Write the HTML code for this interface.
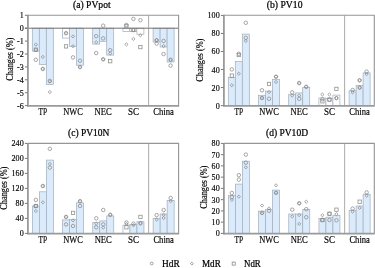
<!DOCTYPE html>
<html><head><meta charset="utf-8"><title>Figure</title>
<style>
html,body{margin:0;padding:0;background:#fff;}
body{width:375px;height:268px;overflow:hidden;}
svg{display:block;filter:blur(0.4px);}
text{font-family:"Liberation Serif", serif;fill:#000;stroke:#000;stroke-width:0.16px;}
.t{stroke-width:0.22px;}
.lg{stroke-width:0.22px;}
</style></head>
<body>
<svg width="375" height="268" viewBox="0 0 375 268">
<rect width="375" height="268" fill="#fff"/>
<rect x="32.3" y="28.2" width="7" height="22.9" fill="#dbebfb" stroke="#9fadbb" stroke-width="0.7"/>
<rect x="39.3" y="28.2" width="7" height="36.2" fill="#dbebfb" stroke="#9fadbb" stroke-width="0.7"/>
<rect x="46.3" y="28.2" width="7" height="56.4" fill="#dbebfb" stroke="#9fadbb" stroke-width="0.7"/>
<rect x="62.5" y="28.2" width="7" height="9.9" fill="#ffffff" stroke="#9fadbb" stroke-width="0.7"/>
<rect x="69.5" y="28.2" width="7" height="18.1" fill="#dbebfb" stroke="#9fadbb" stroke-width="0.7"/>
<rect x="76.5" y="28.2" width="7" height="37" fill="#dbebfb" stroke="#9fadbb" stroke-width="0.7"/>
<rect x="92.7" y="28.2" width="7" height="15.9" fill="#dbebfb" stroke="#9fadbb" stroke-width="0.7"/>
<rect x="99.7" y="28.2" width="7" height="13.1" fill="#dbebfb" stroke="#9fadbb" stroke-width="0.7"/>
<rect x="106.7" y="28.2" width="7" height="26.9" fill="#dbebfb" stroke="#9fadbb" stroke-width="0.7"/>
<rect x="122.9" y="28.2" width="7" height="3.4" fill="#ffffff" stroke="#9fadbb" stroke-width="0.7"/>
<rect x="129.9" y="28.2" width="7" height="3.5" fill="#ffffff" stroke="#9fadbb" stroke-width="0.7"/>
<rect x="136.9" y="28.2" width="7" height="6" fill="#ffffff" stroke="#9fadbb" stroke-width="0.7"/>
<rect x="153.1" y="28.2" width="7" height="13.8" fill="#dbebfb" stroke="#9fadbb" stroke-width="0.7"/>
<rect x="160.1" y="28.2" width="7" height="18.8" fill="#dbebfb" stroke="#9fadbb" stroke-width="0.7"/>
<rect x="167.1" y="28.2" width="7" height="33.8" fill="#dbebfb" stroke="#9fadbb" stroke-width="0.7"/>
<line x1="24.9" y1="28.2" x2="178.6" y2="28.2" stroke="#707070" stroke-width="1"/>
<path d="M35.8 43.06L37.46 44.6L35.8 46.14L34.14 44.6Z" fill="none" stroke="#8a8a8a" stroke-width="0.75"/>
<rect x="34.14" y="48.04" width="3.32" height="3.32" fill="none" stroke="#8a8a8a" stroke-width="0.75"/>
<path d="M35.8 48.16L37.46 49.7L35.8 51.24L34.14 49.7Z" fill="none" stroke="#8a8a8a" stroke-width="0.75"/>
<circle cx="35.8" cy="59.8" r="1.75" fill="none" stroke="#8a8a8a" stroke-width="0.75"/>
<path d="M42.8 55.36L44.46 56.9L42.8 58.44L41.14 56.9Z" fill="none" stroke="#8a8a8a" stroke-width="0.75"/>
<path d="M42.8 67.36L44.46 68.9L42.8 70.44L41.14 68.9Z" fill="none" stroke="#8a8a8a" stroke-width="0.75"/>
<circle cx="42.8" cy="68.9" r="1.75" fill="none" stroke="#8a8a8a" stroke-width="0.75"/>
<circle cx="49.8" cy="80.9" r="1.75" fill="none" stroke="#8a8a8a" stroke-width="0.75"/>
<path d="M49.8 79.96L51.46 81.5L49.8 83.04L48.14 81.5Z" fill="none" stroke="#8a8a8a" stroke-width="0.75"/>
<path d="M49.8 90.56L51.46 92.1L49.8 93.64L48.14 92.1Z" fill="none" stroke="#8a8a8a" stroke-width="0.75"/>
<circle cx="66" cy="33.2" r="1.75" fill="none" stroke="#8a8a8a" stroke-width="0.75"/>
<path d="M66 31.66L67.66 33.2L66 34.74L64.34 33.2Z" fill="none" stroke="#8a8a8a" stroke-width="0.75"/>
<rect x="64.34" y="44.74" width="3.32" height="3.32" fill="none" stroke="#8a8a8a" stroke-width="0.75"/>
<path d="M73 34.86L74.66 36.4L73 37.94L71.34 36.4Z" fill="none" stroke="#8a8a8a" stroke-width="0.75"/>
<path d="M73 44.66L74.66 46.2L73 47.74L71.34 46.2Z" fill="none" stroke="#8a8a8a" stroke-width="0.75"/>
<circle cx="73" cy="57.4" r="1.75" fill="none" stroke="#8a8a8a" stroke-width="0.75"/>
<circle cx="80" cy="60.7" r="1.75" fill="none" stroke="#8a8a8a" stroke-width="0.75"/>
<circle cx="80" cy="67.1" r="1.75" fill="none" stroke="#8a8a8a" stroke-width="0.75"/>
<path d="M80 65.56L81.66 67.1L80 68.64L78.34 67.1Z" fill="none" stroke="#8a8a8a" stroke-width="0.75"/>
<circle cx="96.2" cy="36.2" r="1.75" fill="none" stroke="#8a8a8a" stroke-width="0.75"/>
<path d="M96.2 40.66L97.86 42.2L96.2 43.74L94.54 42.2Z" fill="none" stroke="#8a8a8a" stroke-width="0.75"/>
<circle cx="96.2" cy="53.1" r="1.75" fill="none" stroke="#8a8a8a" stroke-width="0.75"/>
<circle cx="103.2" cy="25.7" r="1.75" fill="none" stroke="#8a8a8a" stroke-width="0.75"/>
<circle cx="103.2" cy="38.4" r="1.75" fill="none" stroke="#8a8a8a" stroke-width="0.75"/>
<circle cx="103.2" cy="59.3" r="1.75" fill="none" stroke="#8a8a8a" stroke-width="0.75"/>
<path d="M103.2 57.76L104.86 59.3L103.2 60.84L101.54 59.3Z" fill="none" stroke="#8a8a8a" stroke-width="0.75"/>
<circle cx="110.2" cy="50.2" r="1.75" fill="none" stroke="#8a8a8a" stroke-width="0.75"/>
<path d="M110.2 51.96L111.86 53.5L110.2 55.04L108.54 53.5Z" fill="none" stroke="#8a8a8a" stroke-width="0.75"/>
<rect x="108.54" y="59.54" width="3.32" height="3.32" fill="none" stroke="#8a8a8a" stroke-width="0.75"/>
<circle cx="126.4" cy="24.9" r="1.75" fill="none" stroke="#8a8a8a" stroke-width="0.75"/>
<rect x="124.74" y="24.64" width="3.32" height="3.32" fill="none" stroke="#8a8a8a" stroke-width="0.75"/>
<path d="M126.4 42.86L128.06 44.4L126.4 45.94L124.74 44.4Z" fill="none" stroke="#8a8a8a" stroke-width="0.75"/>
<circle cx="133.4" cy="18.9" r="1.75" fill="none" stroke="#8a8a8a" stroke-width="0.75"/>
<rect x="131.74" y="28.34" width="3.32" height="3.32" fill="none" stroke="#8a8a8a" stroke-width="0.75"/>
<path d="M133.4 28.46L135.06 30L133.4 31.54L131.74 30Z" fill="none" stroke="#8a8a8a" stroke-width="0.75"/>
<path d="M133.4 37.36L135.06 38.9L133.4 40.44L131.74 38.9Z" fill="none" stroke="#8a8a8a" stroke-width="0.75"/>
<circle cx="140.4" cy="20.2" r="1.75" fill="none" stroke="#8a8a8a" stroke-width="0.75"/>
<path d="M140.4 33.76L142.06 35.3L140.4 36.84L138.74 35.3Z" fill="none" stroke="#8a8a8a" stroke-width="0.75"/>
<rect x="138.74" y="45.44" width="3.32" height="3.32" fill="none" stroke="#8a8a8a" stroke-width="0.75"/>
<path d="M156.6 38.56L158.26 40.1L156.6 41.64L154.94 40.1Z" fill="none" stroke="#8a8a8a" stroke-width="0.75"/>
<circle cx="156.6" cy="40.3" r="1.75" fill="none" stroke="#8a8a8a" stroke-width="0.75"/>
<circle cx="156.6" cy="43.6" r="1.75" fill="none" stroke="#8a8a8a" stroke-width="0.75"/>
<circle cx="163.6" cy="40.9" r="1.75" fill="none" stroke="#8a8a8a" stroke-width="0.75"/>
<path d="M163.6 44.56L165.26 46.1L163.6 47.64L161.94 46.1Z" fill="none" stroke="#8a8a8a" stroke-width="0.75"/>
<circle cx="163.6" cy="54.1" r="1.75" fill="none" stroke="#8a8a8a" stroke-width="0.75"/>
<circle cx="170.6" cy="59.8" r="1.75" fill="none" stroke="#8a8a8a" stroke-width="0.75"/>
<path d="M170.6 58.26L172.26 59.8L170.6 61.34L168.94 59.8Z" fill="none" stroke="#8a8a8a" stroke-width="0.75"/>
<circle cx="170.6" cy="65.6" r="1.75" fill="none" stroke="#8a8a8a" stroke-width="0.75"/>
<path d="M27.9 15.3H178.6V105.8" fill="none" stroke="#959595" stroke-width="1.1"/>
<line x1="27.9" y1="14.8" x2="27.9" y2="106.7" stroke="#9a9a9a" stroke-width="1.8"/>
<line x1="27.9" y1="105.8" x2="179.1" y2="105.8" stroke="#9a9a9a" stroke-width="1.8"/>
<line x1="148.6" y1="15.3" x2="148.6" y2="105.8" stroke="#9c9c9c" stroke-width="0.85"/>
<line x1="24.9" y1="15.3" x2="27.4" y2="15.3" stroke="#6a6a6a" stroke-width="0.9"/>
<text transform="translate(23.7 18.3) scale(0.92 1)" font-size="8.8" text-anchor="end">1</text>
<line x1="24.9" y1="28.2" x2="27.4" y2="28.2" stroke="#6a6a6a" stroke-width="0.9"/>
<text transform="translate(23.7 31.2) scale(0.92 1)" font-size="8.8" text-anchor="end">0</text>
<line x1="24.9" y1="41.1" x2="27.4" y2="41.1" stroke="#6a6a6a" stroke-width="0.9"/>
<text transform="translate(23.7 44.1) scale(0.92 1)" font-size="8.8" text-anchor="end">-1</text>
<line x1="24.9" y1="54" x2="27.4" y2="54" stroke="#6a6a6a" stroke-width="0.9"/>
<text transform="translate(23.7 57) scale(0.92 1)" font-size="8.8" text-anchor="end">-2</text>
<line x1="24.9" y1="66.9" x2="27.4" y2="66.9" stroke="#6a6a6a" stroke-width="0.9"/>
<text transform="translate(23.7 69.9) scale(0.92 1)" font-size="8.8" text-anchor="end">-3</text>
<line x1="24.9" y1="79.8" x2="27.4" y2="79.8" stroke="#6a6a6a" stroke-width="0.9"/>
<text transform="translate(23.7 82.8) scale(0.92 1)" font-size="8.8" text-anchor="end">-4</text>
<line x1="24.9" y1="92.7" x2="27.4" y2="92.7" stroke="#6a6a6a" stroke-width="0.9"/>
<text transform="translate(23.7 95.7) scale(0.92 1)" font-size="8.8" text-anchor="end">-5</text>
<line x1="24.9" y1="105.6" x2="27.4" y2="105.6" stroke="#6a6a6a" stroke-width="0.9"/>
<text transform="translate(23.7 108.6) scale(0.92 1)" font-size="8.8" text-anchor="end">-6</text>
<text x="42.8" y="115.2" font-size="9.6" text-anchor="middle" textLength="8.6" lengthAdjust="spacingAndGlyphs">TP</text>
<text x="73" y="115.2" font-size="9.6" text-anchor="middle" textLength="19.6" lengthAdjust="spacingAndGlyphs">NWC</text>
<text x="103.2" y="115.2" font-size="9.6" text-anchor="middle" textLength="17.2" lengthAdjust="spacingAndGlyphs">NEC</text>
<text x="133.4" y="115.2" font-size="9.6" text-anchor="middle" textLength="11.0" lengthAdjust="spacingAndGlyphs">SC</text>
<text x="163.6" y="115.2" font-size="9.6" text-anchor="middle" textLength="20.5" lengthAdjust="spacingAndGlyphs">China</text>
<text transform="translate(13 59.2) rotate(-90)" font-size="9.4" text-anchor="middle" textLength="43" lengthAdjust="spacingAndGlyphs">Changes (%)</text>
<text class="t" x="73" y="8" font-size="9.4" textLength="37.6" lengthAdjust="spacingAndGlyphs">(a) PVpot</text>
<rect x="228.3" y="77.5" width="7" height="28.1" fill="#dbebfb" stroke="#9fadbb" stroke-width="0.7"/>
<rect x="235.3" y="61.6" width="7" height="44" fill="#dbebfb" stroke="#9fadbb" stroke-width="0.7"/>
<rect x="242.3" y="34.1" width="7" height="71.5" fill="#dbebfb" stroke="#9fadbb" stroke-width="0.7"/>
<rect x="258.5" y="95.3" width="7" height="10.3" fill="#dbebfb" stroke="#9fadbb" stroke-width="0.7"/>
<rect x="265.5" y="91.1" width="7" height="14.5" fill="#dbebfb" stroke="#9fadbb" stroke-width="0.7"/>
<rect x="272.5" y="79.3" width="7" height="26.3" fill="#dbebfb" stroke="#9fadbb" stroke-width="0.7"/>
<rect x="288.7" y="94.3" width="7" height="11.3" fill="#dbebfb" stroke="#9fadbb" stroke-width="0.7"/>
<rect x="295.7" y="92.9" width="7" height="12.7" fill="#dbebfb" stroke="#9fadbb" stroke-width="0.7"/>
<rect x="302.7" y="87.3" width="7" height="18.3" fill="#dbebfb" stroke="#9fadbb" stroke-width="0.7"/>
<rect x="318.9" y="98" width="7" height="7.6" fill="#ffffff" stroke="#9fadbb" stroke-width="0.7"/>
<rect x="325.9" y="98.4" width="7" height="7.2" fill="#ffffff" stroke="#9fadbb" stroke-width="0.7"/>
<rect x="332.9" y="95.1" width="7" height="10.5" fill="#ffffff" stroke="#9fadbb" stroke-width="0.7"/>
<rect x="349.1" y="90.8" width="7" height="14.8" fill="#dbebfb" stroke="#9fadbb" stroke-width="0.7"/>
<rect x="356.1" y="85.3" width="7" height="20.3" fill="#dbebfb" stroke="#9fadbb" stroke-width="0.7"/>
<rect x="363.1" y="72.9" width="7" height="32.7" fill="#dbebfb" stroke="#9fadbb" stroke-width="0.7"/>
<circle cx="231.8" cy="69.4" r="1.75" fill="none" stroke="#8a8a8a" stroke-width="0.75"/>
<rect x="230.14" y="73.94" width="3.32" height="3.32" fill="none" stroke="#8a8a8a" stroke-width="0.75"/>
<path d="M231.8 83.76L233.46 85.3L231.8 86.84L230.14 85.3Z" fill="none" stroke="#8a8a8a" stroke-width="0.75"/>
<circle cx="238.8" cy="53.8" r="1.75" fill="none" stroke="#8a8a8a" stroke-width="0.75"/>
<rect x="237.14" y="53.34" width="3.32" height="3.32" fill="none" stroke="#8a8a8a" stroke-width="0.75"/>
<path d="M238.8 72.16L240.46 73.7L238.8 75.24L237.14 73.7Z" fill="none" stroke="#8a8a8a" stroke-width="0.75"/>
<circle cx="245.8" cy="22.8" r="1.75" fill="none" stroke="#8a8a8a" stroke-width="0.75"/>
<circle cx="245.8" cy="37.9" r="1.75" fill="none" stroke="#8a8a8a" stroke-width="0.75"/>
<path d="M245.8 39.46L247.46 41L245.8 42.54L244.14 41Z" fill="none" stroke="#8a8a8a" stroke-width="0.75"/>
<circle cx="262" cy="90.3" r="1.75" fill="none" stroke="#8a8a8a" stroke-width="0.75"/>
<path d="M262 96.46L263.66 98L262 99.54L260.34 98Z" fill="none" stroke="#8a8a8a" stroke-width="0.75"/>
<circle cx="262" cy="98" r="1.75" fill="none" stroke="#8a8a8a" stroke-width="0.75"/>
<rect x="267.34" y="82.24" width="3.32" height="3.32" fill="none" stroke="#8a8a8a" stroke-width="0.75"/>
<path d="M269 90.56L270.66 92.1L269 93.64L267.34 92.1Z" fill="none" stroke="#8a8a8a" stroke-width="0.75"/>
<circle cx="269" cy="98.8" r="1.75" fill="none" stroke="#8a8a8a" stroke-width="0.75"/>
<circle cx="276" cy="76.7" r="1.75" fill="none" stroke="#8a8a8a" stroke-width="0.75"/>
<path d="M276 75.16L277.66 76.7L276 78.24L274.34 76.7Z" fill="none" stroke="#8a8a8a" stroke-width="0.75"/>
<path d="M276 80.46L277.66 82L276 83.54L274.34 82Z" fill="none" stroke="#8a8a8a" stroke-width="0.75"/>
<circle cx="292.2" cy="92.4" r="1.75" fill="none" stroke="#8a8a8a" stroke-width="0.75"/>
<path d="M292.2 94.06L293.86 95.6L292.2 97.14L290.54 95.6Z" fill="none" stroke="#8a8a8a" stroke-width="0.75"/>
<circle cx="299.2" cy="83.1" r="1.75" fill="none" stroke="#8a8a8a" stroke-width="0.75"/>
<path d="M299.2 81.56L300.86 83.1L299.2 84.64L297.54 83.1Z" fill="none" stroke="#8a8a8a" stroke-width="0.75"/>
<path d="M299.2 94.06L300.86 95.6L299.2 97.14L297.54 95.6Z" fill="none" stroke="#8a8a8a" stroke-width="0.75"/>
<circle cx="299.2" cy="98.8" r="1.75" fill="none" stroke="#8a8a8a" stroke-width="0.75"/>
<circle cx="306.2" cy="86.8" r="1.75" fill="none" stroke="#8a8a8a" stroke-width="0.75"/>
<path d="M306.2 85.26L307.86 86.8L306.2 88.34L304.54 86.8Z" fill="none" stroke="#8a8a8a" stroke-width="0.75"/>
<path d="M322.4 92.96L324.06 94.5L322.4 96.04L320.74 94.5Z" fill="none" stroke="#8a8a8a" stroke-width="0.75"/>
<circle cx="322.4" cy="99.2" r="1.75" fill="none" stroke="#8a8a8a" stroke-width="0.75"/>
<rect x="320.74" y="99.64" width="3.32" height="3.32" fill="none" stroke="#8a8a8a" stroke-width="0.75"/>
<path d="M329.4 92.96L331.06 94.5L329.4 96.04L327.74 94.5Z" fill="none" stroke="#8a8a8a" stroke-width="0.75"/>
<rect x="327.74" y="97.94" width="3.32" height="3.32" fill="none" stroke="#8a8a8a" stroke-width="0.75"/>
<circle cx="329.4" cy="99.6" r="1.75" fill="none" stroke="#8a8a8a" stroke-width="0.75"/>
<rect x="334.74" y="87.24" width="3.32" height="3.32" fill="none" stroke="#8a8a8a" stroke-width="0.75"/>
<path d="M336.4 96.56L338.06 98.1L336.4 99.64L334.74 98.1Z" fill="none" stroke="#8a8a8a" stroke-width="0.75"/>
<circle cx="336.4" cy="98.1" r="1.75" fill="none" stroke="#8a8a8a" stroke-width="0.75"/>
<circle cx="352.6" cy="90" r="1.75" fill="none" stroke="#8a8a8a" stroke-width="0.75"/>
<path d="M352.6 90.86L354.26 92.4L352.6 93.94L350.94 92.4Z" fill="none" stroke="#8a8a8a" stroke-width="0.75"/>
<circle cx="359.6" cy="80.3" r="1.75" fill="none" stroke="#8a8a8a" stroke-width="0.75"/>
<path d="M359.6 78.76L361.26 80.3L359.6 81.84L357.94 80.3Z" fill="none" stroke="#8a8a8a" stroke-width="0.75"/>
<path d="M359.6 86.06L361.26 87.6L359.6 89.14L357.94 87.6Z" fill="none" stroke="#8a8a8a" stroke-width="0.75"/>
<circle cx="359.6" cy="87.6" r="1.75" fill="none" stroke="#8a8a8a" stroke-width="0.75"/>
<circle cx="366.6" cy="71.6" r="1.75" fill="none" stroke="#8a8a8a" stroke-width="0.75"/>
<path d="M366.6 72.56L368.26 74.1L366.6 75.64L364.94 74.1Z" fill="none" stroke="#8a8a8a" stroke-width="0.75"/>
<path d="M223.9 15.3H374.3V105.8" fill="none" stroke="#959595" stroke-width="1.1"/>
<line x1="223.9" y1="14.8" x2="223.9" y2="106.7" stroke="#9a9a9a" stroke-width="1.8"/>
<line x1="223.9" y1="105.8" x2="374.8" y2="105.8" stroke="#9a9a9a" stroke-width="1.8"/>
<line x1="344.6" y1="15.3" x2="344.6" y2="105.8" stroke="#9c9c9c" stroke-width="0.85"/>
<line x1="220.9" y1="105.6" x2="223.4" y2="105.6" stroke="#6a6a6a" stroke-width="0.9"/>
<text transform="translate(219.7 108.6) scale(0.92 1)" font-size="8.8" text-anchor="end">0</text>
<line x1="220.9" y1="87.56" x2="223.4" y2="87.56" stroke="#6a6a6a" stroke-width="0.9"/>
<text transform="translate(219.7 90.56) scale(0.92 1)" font-size="8.8" text-anchor="end">20</text>
<line x1="220.9" y1="69.52" x2="223.4" y2="69.52" stroke="#6a6a6a" stroke-width="0.9"/>
<text transform="translate(219.7 72.52) scale(0.92 1)" font-size="8.8" text-anchor="end">40</text>
<line x1="220.9" y1="51.48" x2="223.4" y2="51.48" stroke="#6a6a6a" stroke-width="0.9"/>
<text transform="translate(219.7 54.48) scale(0.92 1)" font-size="8.8" text-anchor="end">60</text>
<line x1="220.9" y1="33.44" x2="223.4" y2="33.44" stroke="#6a6a6a" stroke-width="0.9"/>
<text transform="translate(219.7 36.44) scale(0.92 1)" font-size="8.8" text-anchor="end">80</text>
<line x1="220.9" y1="15.4" x2="223.4" y2="15.4" stroke="#6a6a6a" stroke-width="0.9"/>
<text transform="translate(219.7 18.4) scale(0.92 1)" font-size="8.8" text-anchor="end">100</text>
<text x="238.8" y="115.2" font-size="9.6" text-anchor="middle" textLength="8.6" lengthAdjust="spacingAndGlyphs">TP</text>
<text x="269" y="115.2" font-size="9.6" text-anchor="middle" textLength="19.6" lengthAdjust="spacingAndGlyphs">NWC</text>
<text x="299.2" y="115.2" font-size="9.6" text-anchor="middle" textLength="17.2" lengthAdjust="spacingAndGlyphs">NEC</text>
<text x="329.4" y="115.2" font-size="9.6" text-anchor="middle" textLength="11.0" lengthAdjust="spacingAndGlyphs">SC</text>
<text x="359.6" y="115.2" font-size="9.6" text-anchor="middle" textLength="20.5" lengthAdjust="spacingAndGlyphs">China</text>
<text transform="translate(202.9 60.2) rotate(-90)" font-size="9.4" text-anchor="middle" textLength="43" lengthAdjust="spacingAndGlyphs">Changes (%)</text>
<text class="t" x="266.8" y="8" font-size="9.4" textLength="35.7" lengthAdjust="spacingAndGlyphs">(b) PV10</text>
<rect x="32.35" y="206" width="7" height="27.4" fill="#dbebfb" stroke="#9fadbb" stroke-width="0.7"/>
<rect x="39.35" y="191.8" width="7" height="41.6" fill="#dbebfb" stroke="#9fadbb" stroke-width="0.7"/>
<rect x="46.35" y="160.1" width="7" height="73.3" fill="#dbebfb" stroke="#9fadbb" stroke-width="0.7"/>
<rect x="62.55" y="219.9" width="7" height="13.5" fill="#dbebfb" stroke="#9fadbb" stroke-width="0.7"/>
<rect x="69.55" y="219.3" width="7" height="14.1" fill="#dbebfb" stroke="#9fadbb" stroke-width="0.7"/>
<rect x="76.55" y="202.8" width="7" height="30.6" fill="#dbebfb" stroke="#9fadbb" stroke-width="0.7"/>
<rect x="92.75" y="222.5" width="7" height="10.9" fill="#dbebfb" stroke="#9fadbb" stroke-width="0.7"/>
<rect x="99.75" y="220.9" width="7" height="12.5" fill="#dbebfb" stroke="#9fadbb" stroke-width="0.7"/>
<rect x="106.75" y="215.9" width="7" height="17.5" fill="#dbebfb" stroke="#9fadbb" stroke-width="0.7"/>
<rect x="122.95" y="225.2" width="7" height="8.2" fill="#ffffff" stroke="#9fadbb" stroke-width="0.7"/>
<rect x="129.95" y="224.4" width="7" height="9" fill="#dbebfb" stroke="#9fadbb" stroke-width="0.7"/>
<rect x="136.95" y="221.7" width="7" height="11.7" fill="#dbebfb" stroke="#9fadbb" stroke-width="0.7"/>
<rect x="153.15" y="218.3" width="7" height="15.1" fill="#dbebfb" stroke="#9fadbb" stroke-width="0.7"/>
<rect x="160.15" y="214" width="7" height="19.4" fill="#dbebfb" stroke="#9fadbb" stroke-width="0.7"/>
<rect x="167.15" y="200.4" width="7" height="33" fill="#dbebfb" stroke="#9fadbb" stroke-width="0.7"/>
<circle cx="35.85" cy="199.9" r="1.75" fill="none" stroke="#8a8a8a" stroke-width="0.75"/>
<circle cx="35.85" cy="206" r="1.75" fill="none" stroke="#8a8a8a" stroke-width="0.75"/>
<rect x="34.19" y="204.34" width="3.32" height="3.32" fill="none" stroke="#8a8a8a" stroke-width="0.75"/>
<path d="M35.85 209.46L37.51 211L35.85 212.54L34.19 211Z" fill="none" stroke="#8a8a8a" stroke-width="0.75"/>
<circle cx="42.85" cy="186" r="1.75" fill="none" stroke="#8a8a8a" stroke-width="0.75"/>
<path d="M42.85 184.46L44.51 186L42.85 187.54L41.19 186Z" fill="none" stroke="#8a8a8a" stroke-width="0.75"/>
<path d="M42.85 200.76L44.51 202.3L42.85 203.84L41.19 202.3Z" fill="none" stroke="#8a8a8a" stroke-width="0.75"/>
<circle cx="49.85" cy="148.8" r="1.75" fill="none" stroke="#8a8a8a" stroke-width="0.75"/>
<path d="M49.85 162.36L51.51 163.9L49.85 165.44L48.19 163.9Z" fill="none" stroke="#8a8a8a" stroke-width="0.75"/>
<circle cx="49.85" cy="167.6" r="1.75" fill="none" stroke="#8a8a8a" stroke-width="0.75"/>
<circle cx="66.05" cy="216.9" r="1.75" fill="none" stroke="#8a8a8a" stroke-width="0.75"/>
<path d="M66.05 215.36L67.71 216.9L66.05 218.44L64.39 216.9Z" fill="none" stroke="#8a8a8a" stroke-width="0.75"/>
<circle cx="66.05" cy="224.4" r="1.75" fill="none" stroke="#8a8a8a" stroke-width="0.75"/>
<rect x="71.39" y="211.24" width="3.32" height="3.32" fill="none" stroke="#8a8a8a" stroke-width="0.75"/>
<path d="M73.05 218.86L74.71 220.4L73.05 221.94L71.39 220.4Z" fill="none" stroke="#8a8a8a" stroke-width="0.75"/>
<circle cx="73.05" cy="226" r="1.75" fill="none" stroke="#8a8a8a" stroke-width="0.75"/>
<circle cx="80.05" cy="201.2" r="1.75" fill="none" stroke="#8a8a8a" stroke-width="0.75"/>
<path d="M80.05 199.66L81.71 201.2L80.05 202.74L78.39 201.2Z" fill="none" stroke="#8a8a8a" stroke-width="0.75"/>
<circle cx="80.05" cy="206" r="1.75" fill="none" stroke="#8a8a8a" stroke-width="0.75"/>
<circle cx="96.25" cy="218.3" r="1.75" fill="none" stroke="#8a8a8a" stroke-width="0.75"/>
<path d="M96.25 222.06L97.91 223.6L96.25 225.14L94.59 223.6Z" fill="none" stroke="#8a8a8a" stroke-width="0.75"/>
<circle cx="96.25" cy="227.3" r="1.75" fill="none" stroke="#8a8a8a" stroke-width="0.75"/>
<circle cx="103.25" cy="210" r="1.75" fill="none" stroke="#8a8a8a" stroke-width="0.75"/>
<circle cx="103.25" cy="224.4" r="1.75" fill="none" stroke="#8a8a8a" stroke-width="0.75"/>
<path d="M103.25 226.06L104.91 227.6L103.25 229.14L101.59 227.6Z" fill="none" stroke="#8a8a8a" stroke-width="0.75"/>
<circle cx="110.25" cy="214.8" r="1.75" fill="none" stroke="#8a8a8a" stroke-width="0.75"/>
<path d="M110.25 213.26L111.91 214.8L110.25 216.34L108.59 214.8Z" fill="none" stroke="#8a8a8a" stroke-width="0.75"/>
<circle cx="126.45" cy="222.5" r="1.75" fill="none" stroke="#8a8a8a" stroke-width="0.75"/>
<path d="M126.45 222.46L128.11 224L126.45 225.54L124.79 224Z" fill="none" stroke="#8a8a8a" stroke-width="0.75"/>
<rect x="124.79" y="225.64" width="3.32" height="3.32" fill="none" stroke="#8a8a8a" stroke-width="0.75"/>
<circle cx="133.45" cy="223.6" r="1.75" fill="none" stroke="#8a8a8a" stroke-width="0.75"/>
<path d="M133.45 223.66L135.11 225.2L133.45 226.74L131.79 225.2Z" fill="none" stroke="#8a8a8a" stroke-width="0.75"/>
<rect x="138.79" y="215.24" width="3.32" height="3.32" fill="none" stroke="#8a8a8a" stroke-width="0.75"/>
<circle cx="140.45" cy="223.3" r="1.75" fill="none" stroke="#8a8a8a" stroke-width="0.75"/>
<path d="M140.45 221.76L142.11 223.3L140.45 224.84L138.79 223.3Z" fill="none" stroke="#8a8a8a" stroke-width="0.75"/>
<circle cx="156.65" cy="215.1" r="1.75" fill="none" stroke="#8a8a8a" stroke-width="0.75"/>
<path d="M156.65 218.06L158.31 219.6L156.65 221.14L154.99 219.6Z" fill="none" stroke="#8a8a8a" stroke-width="0.75"/>
<circle cx="163.65" cy="210" r="1.75" fill="none" stroke="#8a8a8a" stroke-width="0.75"/>
<path d="M163.65 213.26L165.31 214.8L163.65 216.34L161.99 214.8Z" fill="none" stroke="#8a8a8a" stroke-width="0.75"/>
<path d="M163.65 216.46L165.31 218L163.65 219.54L161.99 218Z" fill="none" stroke="#8a8a8a" stroke-width="0.75"/>
<circle cx="170.65" cy="198" r="1.75" fill="none" stroke="#8a8a8a" stroke-width="0.75"/>
<path d="M170.65 199.66L172.31 201.2L170.65 202.74L168.99 201.2Z" fill="none" stroke="#8a8a8a" stroke-width="0.75"/>
<path d="M27.9 143.4H178.6V233.7" fill="none" stroke="#959595" stroke-width="1.1"/>
<line x1="27.9" y1="142.9" x2="27.9" y2="234.6" stroke="#9a9a9a" stroke-width="1.8"/>
<line x1="27.9" y1="233.7" x2="179.1" y2="233.7" stroke="#9a9a9a" stroke-width="1.8"/>
<line x1="148.65" y1="143.4" x2="148.65" y2="233.7" stroke="#9c9c9c" stroke-width="0.85"/>
<line x1="24.9" y1="233.4" x2="27.4" y2="233.4" stroke="#6a6a6a" stroke-width="0.9"/>
<text transform="translate(23.7 236.4) scale(0.92 1)" font-size="8.8" text-anchor="end">0</text>
<line x1="24.9" y1="218.4" x2="27.4" y2="218.4" stroke="#6a6a6a" stroke-width="0.9"/>
<text transform="translate(23.7 221.4) scale(0.92 1)" font-size="8.8" text-anchor="end">40</text>
<line x1="24.9" y1="203.4" x2="27.4" y2="203.4" stroke="#6a6a6a" stroke-width="0.9"/>
<text transform="translate(23.7 206.4) scale(0.92 1)" font-size="8.8" text-anchor="end">80</text>
<line x1="24.9" y1="188.4" x2="27.4" y2="188.4" stroke="#6a6a6a" stroke-width="0.9"/>
<text transform="translate(23.7 191.4) scale(0.92 1)" font-size="8.8" text-anchor="end">120</text>
<line x1="24.9" y1="173.4" x2="27.4" y2="173.4" stroke="#6a6a6a" stroke-width="0.9"/>
<text transform="translate(23.7 176.4) scale(0.92 1)" font-size="8.8" text-anchor="end">160</text>
<line x1="24.9" y1="158.4" x2="27.4" y2="158.4" stroke="#6a6a6a" stroke-width="0.9"/>
<text transform="translate(23.7 161.4) scale(0.92 1)" font-size="8.8" text-anchor="end">200</text>
<line x1="24.9" y1="143.4" x2="27.4" y2="143.4" stroke="#6a6a6a" stroke-width="0.9"/>
<text transform="translate(23.7 146.4) scale(0.92 1)" font-size="8.8" text-anchor="end">240</text>
<text x="42.85" y="243" font-size="9.6" text-anchor="middle" textLength="8.6" lengthAdjust="spacingAndGlyphs">TP</text>
<text x="73.05" y="243" font-size="9.6" text-anchor="middle" textLength="19.6" lengthAdjust="spacingAndGlyphs">NWC</text>
<text x="103.25" y="243" font-size="9.6" text-anchor="middle" textLength="17.2" lengthAdjust="spacingAndGlyphs">NEC</text>
<text x="133.45" y="243" font-size="9.6" text-anchor="middle" textLength="11.0" lengthAdjust="spacingAndGlyphs">SC</text>
<text x="163.65" y="243" font-size="9.6" text-anchor="middle" textLength="20.5" lengthAdjust="spacingAndGlyphs">China</text>
<text transform="translate(7.4 188.2) rotate(-90)" font-size="9.4" text-anchor="middle" textLength="43" lengthAdjust="spacingAndGlyphs">Changes (%)</text>
<text class="t" x="68" y="136" font-size="9.4" textLength="41.5" lengthAdjust="spacingAndGlyphs">(c) PV10N</text>
<rect x="228.35" y="195.6" width="7" height="37.8" fill="#dbebfb" stroke="#9fadbb" stroke-width="0.7"/>
<rect x="235.35" y="184.1" width="7" height="49.3" fill="#dbebfb" stroke="#9fadbb" stroke-width="0.7"/>
<rect x="242.35" y="161.2" width="7" height="72.2" fill="#dbebfb" stroke="#9fadbb" stroke-width="0.7"/>
<rect x="258.55" y="211.1" width="7" height="22.3" fill="#dbebfb" stroke="#9fadbb" stroke-width="0.7"/>
<rect x="265.55" y="209.7" width="7" height="23.7" fill="#dbebfb" stroke="#9fadbb" stroke-width="0.7"/>
<rect x="272.55" y="190.1" width="7" height="43.3" fill="#dbebfb" stroke="#9fadbb" stroke-width="0.7"/>
<rect x="288.75" y="214" width="7" height="19.4" fill="#dbebfb" stroke="#9fadbb" stroke-width="0.7"/>
<rect x="295.75" y="214" width="7" height="19.4" fill="#dbebfb" stroke="#9fadbb" stroke-width="0.7"/>
<rect x="302.75" y="209.5" width="7" height="23.9" fill="#dbebfb" stroke="#9fadbb" stroke-width="0.7"/>
<rect x="318.95" y="218.5" width="7" height="14.9" fill="#dbebfb" stroke="#9fadbb" stroke-width="0.7"/>
<rect x="325.95" y="217.2" width="7" height="16.2" fill="#dbebfb" stroke="#9fadbb" stroke-width="0.7"/>
<rect x="332.95" y="215.3" width="7" height="18.1" fill="#dbebfb" stroke="#9fadbb" stroke-width="0.7"/>
<rect x="349.15" y="210.6" width="7" height="22.8" fill="#dbebfb" stroke="#9fadbb" stroke-width="0.7"/>
<rect x="356.15" y="206" width="7" height="27.4" fill="#dbebfb" stroke="#9fadbb" stroke-width="0.7"/>
<rect x="363.15" y="194.2" width="7" height="39.2" fill="#dbebfb" stroke="#9fadbb" stroke-width="0.7"/>
<circle cx="231.85" cy="193" r="1.75" fill="none" stroke="#8a8a8a" stroke-width="0.75"/>
<circle cx="231.85" cy="197.1" r="1.75" fill="none" stroke="#8a8a8a" stroke-width="0.75"/>
<path d="M231.85 198.36L233.51 199.9L231.85 201.44L230.19 199.9Z" fill="none" stroke="#8a8a8a" stroke-width="0.75"/>
<circle cx="238.85" cy="175.2" r="1.75" fill="none" stroke="#8a8a8a" stroke-width="0.75"/>
<circle cx="238.85" cy="179.6" r="1.75" fill="none" stroke="#8a8a8a" stroke-width="0.75"/>
<path d="M238.85 195.16L240.51 196.7L238.85 198.24L237.19 196.7Z" fill="none" stroke="#8a8a8a" stroke-width="0.75"/>
<circle cx="245.85" cy="154.6" r="1.75" fill="none" stroke="#8a8a8a" stroke-width="0.75"/>
<circle cx="245.85" cy="162.7" r="1.75" fill="none" stroke="#8a8a8a" stroke-width="0.75"/>
<path d="M245.85 165.76L247.51 167.3L245.85 168.84L244.19 167.3Z" fill="none" stroke="#8a8a8a" stroke-width="0.75"/>
<path d="M262.05 203.96L263.71 205.5L262.05 207.04L260.39 205.5Z" fill="none" stroke="#8a8a8a" stroke-width="0.75"/>
<circle cx="262.05" cy="212.8" r="1.75" fill="none" stroke="#8a8a8a" stroke-width="0.75"/>
<path d="M262.05 211.76L263.71 213.3L262.05 214.84L260.39 213.3Z" fill="none" stroke="#8a8a8a" stroke-width="0.75"/>
<path d="M269.05 206.86L270.71 208.4L269.05 209.94L267.39 208.4Z" fill="none" stroke="#8a8a8a" stroke-width="0.75"/>
<circle cx="269.05" cy="210.8" r="1.75" fill="none" stroke="#8a8a8a" stroke-width="0.75"/>
<path d="M276.05 183.76L277.71 185.3L276.05 186.84L274.39 185.3Z" fill="none" stroke="#8a8a8a" stroke-width="0.75"/>
<circle cx="276.05" cy="192.8" r="1.75" fill="none" stroke="#8a8a8a" stroke-width="0.75"/>
<path d="M276.05 191.26L277.71 192.8L276.05 194.34L274.39 192.8Z" fill="none" stroke="#8a8a8a" stroke-width="0.75"/>
<circle cx="292.25" cy="209.7" r="1.75" fill="none" stroke="#8a8a8a" stroke-width="0.75"/>
<path d="M292.25 214.86L293.91 216.4L292.25 217.94L290.59 216.4Z" fill="none" stroke="#8a8a8a" stroke-width="0.75"/>
<circle cx="299.25" cy="203.3" r="1.75" fill="none" stroke="#8a8a8a" stroke-width="0.75"/>
<path d="M299.25 201.76L300.91 203.3L299.25 204.84L297.59 203.3Z" fill="none" stroke="#8a8a8a" stroke-width="0.75"/>
<path d="M299.25 213.56L300.91 215.1L299.25 216.64L297.59 215.1Z" fill="none" stroke="#8a8a8a" stroke-width="0.75"/>
<path d="M299.25 222.36L300.91 223.9L299.25 225.44L297.59 223.9Z" fill="none" stroke="#8a8a8a" stroke-width="0.75"/>
<path d="M306.25 200.16L307.91 201.7L306.25 203.24L304.59 201.7Z" fill="none" stroke="#8a8a8a" stroke-width="0.75"/>
<circle cx="306.25" cy="209.2" r="1.75" fill="none" stroke="#8a8a8a" stroke-width="0.75"/>
<circle cx="306.25" cy="217.2" r="1.75" fill="none" stroke="#8a8a8a" stroke-width="0.75"/>
<path d="M322.45 213.76L324.11 215.3L322.45 216.84L320.79 215.3Z" fill="none" stroke="#8a8a8a" stroke-width="0.75"/>
<circle cx="322.45" cy="220" r="1.75" fill="none" stroke="#8a8a8a" stroke-width="0.75"/>
<rect x="320.79" y="218.34" width="3.32" height="3.32" fill="none" stroke="#8a8a8a" stroke-width="0.75"/>
<rect x="327.79" y="212.14" width="3.32" height="3.32" fill="none" stroke="#8a8a8a" stroke-width="0.75"/>
<circle cx="329.45" cy="213.8" r="1.75" fill="none" stroke="#8a8a8a" stroke-width="0.75"/>
<circle cx="329.45" cy="220" r="1.75" fill="none" stroke="#8a8a8a" stroke-width="0.75"/>
<rect x="334.79" y="208.04" width="3.32" height="3.32" fill="none" stroke="#8a8a8a" stroke-width="0.75"/>
<path d="M336.45 212.66L338.11 214.2L336.45 215.74L334.79 214.2Z" fill="none" stroke="#8a8a8a" stroke-width="0.75"/>
<circle cx="336.45" cy="220.3" r="1.75" fill="none" stroke="#8a8a8a" stroke-width="0.75"/>
<circle cx="352.65" cy="208.6" r="1.75" fill="none" stroke="#8a8a8a" stroke-width="0.75"/>
<path d="M352.65 210.06L354.31 211.6L352.65 213.14L350.99 211.6Z" fill="none" stroke="#8a8a8a" stroke-width="0.75"/>
<rect x="357.99" y="200.04" width="3.32" height="3.32" fill="none" stroke="#8a8a8a" stroke-width="0.75"/>
<path d="M359.65 206.26L361.31 207.8L359.65 209.34L357.99 207.8Z" fill="none" stroke="#8a8a8a" stroke-width="0.75"/>
<circle cx="366.65" cy="192.4" r="1.75" fill="none" stroke="#8a8a8a" stroke-width="0.75"/>
<path d="M366.65 194.06L368.31 195.6L366.65 197.14L364.99 195.6Z" fill="none" stroke="#8a8a8a" stroke-width="0.75"/>
<path d="M223.9 143.4H374.3V233.7" fill="none" stroke="#959595" stroke-width="1.1"/>
<line x1="223.9" y1="142.9" x2="223.9" y2="234.6" stroke="#9a9a9a" stroke-width="1.8"/>
<line x1="223.9" y1="233.7" x2="374.8" y2="233.7" stroke="#9a9a9a" stroke-width="1.8"/>
<line x1="344.65" y1="143.4" x2="344.65" y2="233.7" stroke="#9c9c9c" stroke-width="0.85"/>
<line x1="220.9" y1="233.4" x2="223.4" y2="233.4" stroke="#6a6a6a" stroke-width="0.9"/>
<text transform="translate(219.7 236.4) scale(0.92 1)" font-size="8.8" text-anchor="end">0</text>
<line x1="220.9" y1="222.15" x2="223.4" y2="222.15" stroke="#6a6a6a" stroke-width="0.9"/>
<text transform="translate(219.7 225.15) scale(0.92 1)" font-size="8.8" text-anchor="end">10</text>
<line x1="220.9" y1="210.9" x2="223.4" y2="210.9" stroke="#6a6a6a" stroke-width="0.9"/>
<text transform="translate(219.7 213.9) scale(0.92 1)" font-size="8.8" text-anchor="end">20</text>
<line x1="220.9" y1="199.65" x2="223.4" y2="199.65" stroke="#6a6a6a" stroke-width="0.9"/>
<text transform="translate(219.7 202.65) scale(0.92 1)" font-size="8.8" text-anchor="end">30</text>
<line x1="220.9" y1="188.4" x2="223.4" y2="188.4" stroke="#6a6a6a" stroke-width="0.9"/>
<text transform="translate(219.7 191.4) scale(0.92 1)" font-size="8.8" text-anchor="end">40</text>
<line x1="220.9" y1="177.15" x2="223.4" y2="177.15" stroke="#6a6a6a" stroke-width="0.9"/>
<text transform="translate(219.7 180.15) scale(0.92 1)" font-size="8.8" text-anchor="end">50</text>
<line x1="220.9" y1="165.9" x2="223.4" y2="165.9" stroke="#6a6a6a" stroke-width="0.9"/>
<text transform="translate(219.7 168.9) scale(0.92 1)" font-size="8.8" text-anchor="end">60</text>
<line x1="220.9" y1="154.65" x2="223.4" y2="154.65" stroke="#6a6a6a" stroke-width="0.9"/>
<text transform="translate(219.7 157.65) scale(0.92 1)" font-size="8.8" text-anchor="end">70</text>
<line x1="220.9" y1="143.4" x2="223.4" y2="143.4" stroke="#6a6a6a" stroke-width="0.9"/>
<text transform="translate(219.7 146.4) scale(0.92 1)" font-size="8.8" text-anchor="end">80</text>
<text x="238.85" y="243" font-size="9.6" text-anchor="middle" textLength="8.6" lengthAdjust="spacingAndGlyphs">TP</text>
<text x="269.05" y="243" font-size="9.6" text-anchor="middle" textLength="19.6" lengthAdjust="spacingAndGlyphs">NWC</text>
<text x="299.25" y="243" font-size="9.6" text-anchor="middle" textLength="17.2" lengthAdjust="spacingAndGlyphs">NEC</text>
<text x="329.45" y="243" font-size="9.6" text-anchor="middle" textLength="11.0" lengthAdjust="spacingAndGlyphs">SC</text>
<text x="359.65" y="243" font-size="9.6" text-anchor="middle" textLength="20.5" lengthAdjust="spacingAndGlyphs">China</text>
<text transform="translate(207.4 187.2) rotate(-90)" font-size="9.4" text-anchor="middle" textLength="43" lengthAdjust="spacingAndGlyphs">Changes (%)</text>
<text class="t" x="266" y="136" font-size="9.4" textLength="42" lengthAdjust="spacingAndGlyphs">(d) PV10D</text>
<circle cx="151.7" cy="263.5" r="1.4" fill="none" stroke="#8a8a8a" stroke-width="0.8"/>
<text class="lg" x="162" y="267" font-size="9.4" textLength="17.7" lengthAdjust="spacingAndGlyphs">HdR</text>
<path d="M191.9 262.19L193.42 263.6L191.9 265.01L190.38 263.6Z" fill="none" stroke="#8a8a8a" stroke-width="0.8"/>
<text class="lg" x="202" y="267" font-size="9.4" textLength="18.7" lengthAdjust="spacingAndGlyphs">MdR</text>
<rect x="232.18" y="262.08" width="3.04" height="3.04" fill="none" stroke="#8a8a8a" stroke-width="0.8"/>
<text class="lg" x="244" y="267" font-size="9.4" textLength="16.7" lengthAdjust="spacingAndGlyphs">NdR</text>
</svg>
</body></html>
